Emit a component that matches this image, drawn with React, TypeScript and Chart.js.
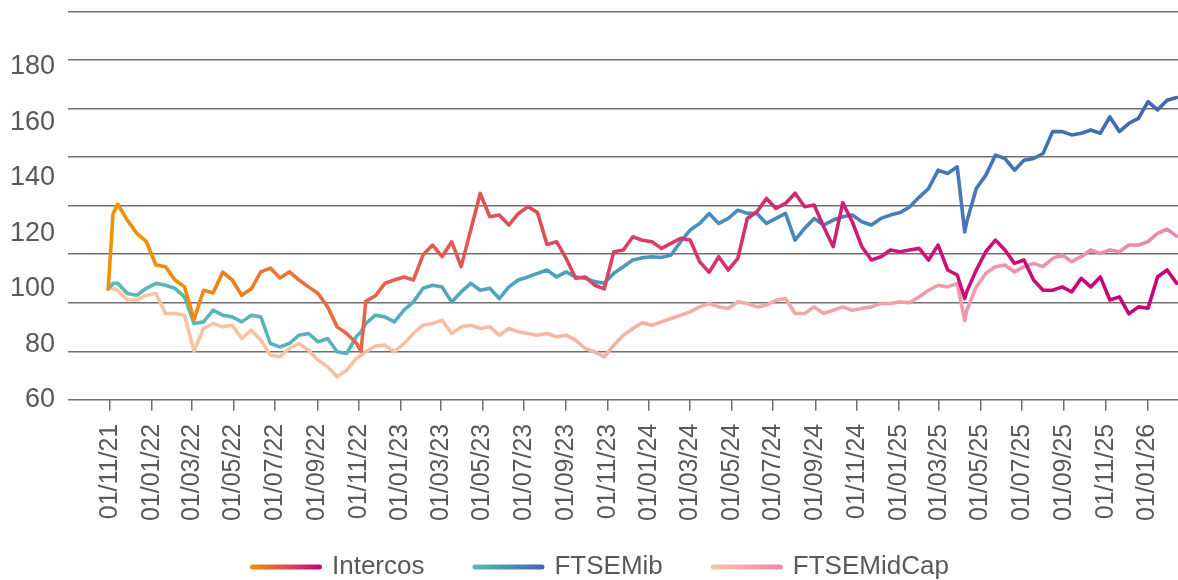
import React, { useEffect, useRef } from 'react';
import { Chart, registerables } from 'chart.js';

Chart.register(...registerables);

// ---------------- DATA ----------------
const DATES = [
  '2021-10-29', '2021-11-02', '2021-11-05', '2021-11-12', '2021-11-26', '2021-12-10', '2021-12-24',
  '2022-01-07', '2022-01-21', '2022-02-04', '2022-02-18', '2022-03-04', '2022-03-18', '2022-04-01',
  '2022-04-15', '2022-04-29', '2022-05-13', '2022-05-27', '2022-06-10', '2022-06-24', '2022-07-08',
  '2022-07-22', '2022-08-05', '2022-08-19', '2022-09-02', '2022-09-16', '2022-09-30', '2022-10-14',
  '2022-10-28', '2022-11-04', '2022-11-11', '2022-11-25', '2022-12-09', '2022-12-23',
  '2023-01-06', '2023-01-20', '2023-02-03', '2023-02-17', '2023-03-03', '2023-03-17', '2023-03-31',
  '2023-04-14', '2023-04-28', '2023-05-12', '2023-05-26', '2023-06-09', '2023-06-23', '2023-07-07',
  '2023-07-21', '2023-08-04', '2023-08-18', '2023-09-01', '2023-09-15', '2023-09-29', '2023-10-13',
  '2023-10-27', '2023-11-10', '2023-11-24', '2023-12-08', '2023-12-22',
  '2024-01-05', '2024-01-19', '2024-02-02', '2024-02-16', '2024-03-01', '2024-03-15', '2024-03-29',
  '2024-04-12', '2024-04-26', '2024-05-10', '2024-05-24', '2024-06-07', '2024-06-21', '2024-07-05',
  '2024-07-19', '2024-08-02', '2024-08-16', '2024-08-30', '2024-09-13', '2024-09-27', '2024-10-11',
  '2024-10-25', '2024-11-08', '2024-11-22', '2024-12-06', '2024-12-20',
  '2025-01-03', '2025-01-17', '2025-01-31', '2025-02-14', '2025-02-28', '2025-03-14', '2025-03-28',
  '2025-04-08', '2025-04-11', '2025-04-25', '2025-05-09', '2025-05-23', '2025-06-06', '2025-06-20',
  '2025-07-04', '2025-07-18', '2025-08-01', '2025-08-15', '2025-08-29', '2025-09-12', '2025-09-26',
  '2025-10-10', '2025-10-24', '2025-11-07', '2025-11-21', '2025-12-05', '2025-12-19',
  '2026-01-02', '2026-01-16', '2026-01-30', '2026-02-13',
];

const INTERCOS = [
  100, 115, 127, 130.5, 124.8, 120, 117,
  108.6, 108, 103.2, 100.7, 89, 99.5, 98.5,
  106, 103.2, 97.7, 100, 106.1, 107.5, 103.9,
  106.1, 103.2, 100.7, 98.3, 93.5, 86.3, 83.9,
  80.5, 77.5, 95.5, 97.5, 102, 103.2,
  104.3, 103.2, 112.2, 115.8, 111.6, 117, 108,
  121.2, 134.4, 126, 126.6, 123, 127.2, 129.6,
  127.5, 116, 117, 111, 103.8, 104.3, 101.3,
  100, 113.4, 114, 118.8, 117.5,
  117, 114.6, 116.4, 118.2, 117.6, 109.8, 106,
  111.6, 106.8, 111, 125.4, 127.8, 132.6, 129,
  130.8, 134.5, 129.6, 130.2, 122.4, 115.2, 131,
  124.2, 115.2, 110.4, 111.6, 114,
  113.4, 114, 114.6, 110.4, 115.8, 106.8, 105,
  96.5, 99, 106.8, 113.4, 117.6, 114, 109.2,
  110.4, 103.2, 99.5, 99.5, 100.7, 98.9, 103.8,
  100.7, 104.3, 96, 97.1, 91, 93.5,
  93, 104.3, 106.8, 102,
];

const FTSEMIB = [
  100, 101, 102, 102, 98.3, 97.7, 100.2,
  102, 101.3, 100.2, 97.1, 87.5, 88.1, 92.3,
  90.5, 89.9, 88.1, 90.5, 89.9, 80.3, 79.1,
  80.3, 83.3, 83.9, 80.9, 82.1, 77.3, 76.7,
  82.7, 84.5, 87.5, 90.5, 89.9, 88.1,
  92.3, 95.3, 100.2, 101.3, 100.7, 95.3, 98.9,
  102, 99.5, 100.2, 96.5, 100.7, 103.2, 104.3,
  105.6, 106.8, 104.3, 106.1, 104.3, 103.8, 102.6,
  102, 105.6, 108, 110.4, 111.2,
  111.6, 111.3, 112.2, 117, 121.2, 123.6, 127.2,
  123.6, 125.4, 128.4, 127.2, 127.2, 123.6, 125.4,
  127.2, 117.6, 121.8, 125.4, 123, 124.8, 126,
  126.6, 124.2, 123, 125.4, 126.6,
  127.5, 129.5, 133, 136.2, 142.8, 141.6, 144,
  120.5, 124.2, 136.2, 141, 148.2, 147, 142.8,
  146.4, 147, 148.8, 156.7, 156.7, 155.5, 156.1,
  157.3, 156.1, 162, 156.7, 159.7, 161.5,
  167.5, 164.5, 168, 169,
];

const FTSEMIDCAP = [
  100, 100.5, 100, 99.5, 96, 96, 97.7,
  98.3, 91.1, 91.1, 90.5, 77.5, 85.7, 87.5,
  86.3, 86.9, 82.1, 85.1, 81.5, 76.1, 75.5,
  78.5, 80.3, 77.9, 74.3, 71.9, 68.3, 70.7,
  74.9, 76, 77.3, 79.4, 79.7, 77.3,
  80.3, 83.9, 86.9, 87.5, 88.7, 83.9, 86.3,
  86.9, 85.7, 86.3, 83.3, 85.7, 84.5, 83.9,
  83.3, 83.9, 82.7, 83.3, 81.5, 78.5, 77.3,
  75.5, 79.7, 83.3, 85.7, 87.8,
  86.9, 88.1, 89.3, 90.5, 91.7, 93.5, 94.7,
  93.5, 92.9, 95.3, 94.7, 93.5, 94.1, 95.9,
  96.5, 91.1, 91.1, 93.5, 91.1, 92.3, 93.5,
  92.3, 92.9, 93.5, 94.7, 94.7,
  95.3, 95, 97.1, 99.5, 101.3, 100.7, 102,
  88.5, 92.3, 100.7, 105.6, 108, 108.6, 106.1,
  108, 109.2, 108, 111, 112.2, 109.8, 111.6,
  114, 112.8, 114, 113.4, 115.8, 115.8,
  117, 120, 121.5, 119,
];

const SERIES_NAMES = ['Intercos', 'FTSEMib', 'FTSEMidCap'];

const TICK_DATES = [
  '2021-11-01', '2022-01-01', '2022-03-01', '2022-05-01', '2022-07-01', '2022-09-01',
  '2022-11-01', '2023-01-01', '2023-03-01', '2023-05-01', '2023-07-01', '2023-09-01',
  '2023-11-01', '2024-01-01', '2024-03-01', '2024-05-01', '2024-07-01', '2024-09-01',
  '2024-11-01', '2025-01-01', '2025-03-01', '2025-05-01', '2025-07-01', '2025-09-01',
  '2025-11-01', '2026-01-01',
];

const Y_TICKS = [60, 80, 100, 120, 140, 160, 180];
const Y_MIN = 60;
const Y_MAX = 200;
const X_MIN_DATE = '2021-08-31';
const X_MAX_DATE = '2026-02-15';

// ---------------- STYLE ----------------
const FONT = '"Liberation Sans", Arial, Helvetica, sans-serif';
const TEXT_COLOR = '#58595B';
const GRID_COLOR = '#6F7072';

const GRADIENTS: [number, string][][] = [
  [[0, '#F39200'], [0.1, '#F18C08'], [0.15, '#EE7E22'], [0.27, '#E5654A'], [0.4, '#DD5058'],
   [0.52, '#D83F65'], [0.63, '#D22C70'], [0.76, '#CB1478'], [1, '#C5007D']],
  [[0, '#5CBAB7'], [0.25, '#57B2B9'], [0.4, '#4FA3BF'], [0.55, '#4A93C1'], [0.7, '#4783BC'],
   [0.85, '#4473B5'], [1, '#3F66AF']],
  [[0, '#F8C79F'], [0.35, '#F6BEA0'], [0.55, '#F3AFA5'], [0.75, '#F0A0A8'], [1, '#EA87AE']],
];

const LEGEND_GRADIENTS: [number, string][][] = [
  [[0, '#F39200'], [0.5, '#DC4A5C'], [1, '#C6007E']],
  [[0, '#5CBAB7'], [1, '#3F66AF']],
  [[0, '#F8C79F'], [1, '#EA87AE']],
];

const BASE = Date.UTC(2021, 10, 1);
function dayOf(s: string): number {
  const [y, m, d] = s.split('-').map(Number);
  return (Date.UTC(y, m - 1, d) - BASE) / 86400000;
}
function tickLabel(s: string): string {
  const [y, m, d] = s.split('-');
  return `${d}/${m}/${y.slice(2)}`;
}

function linearGradient(ctx: CanvasRenderingContext2D, x0: number, x1: number, stops: [number, string][]) {
  const g = ctx.createLinearGradient(x0, 0, x1, 0);
  stops.forEach(([o, c]) => g.addColorStop(o, c));
  return g;
}

const legendPlugin = {
  id: 'gradientLegend',
  afterDraw(chart: any) {
    const ctx: CanvasRenderingContext2D = chart.ctx;
    ctx.save();
    ctx.font = `26px ${FONT}`;
    ctx.textBaseline = 'middle';
    ctx.textAlign = 'left';
    const y = 567;
    const swatchW = 72;
    const gapText = 10;
    const gapItem = 48;
    let x = 250;
    SERIES_NAMES.forEach((name, i) => {
      ctx.lineWidth = 5;
      ctx.lineCap = 'round';
      ctx.strokeStyle = linearGradient(ctx, x, x + swatchW, LEGEND_GRADIENTS[i]);
      ctx.beginPath();
      ctx.moveTo(x + 2.5, y);
      ctx.lineTo(x + swatchW - 2.5, y);
      ctx.stroke();
      ctx.fillStyle = TEXT_COLOR;
      const tx = x + swatchW + gapText;
      ctx.fillText(name, tx, y);
      x = tx + ctx.measureText(name).width + gapItem;
    });
    ctx.restore();
  },
};

export default function App() {
  const canvasRef = useRef<HTMLCanvasElement | null>(null);

  useEffect(() => {
    if (!canvasRef.current) return;
    const seriesValues = [INTERCOS, FTSEMIB, FTSEMIDCAP];
    const datasets = seriesValues.map((vals, i) => ({
      label: SERIES_NAMES[i],
      data: DATES.map((d, j) => ({ x: dayOf(d), y: vals[j] })),
      borderWidth: 3.6,
      pointRadius: 0,
      pointHoverRadius: 0,
      fill: false,
      tension: 0,
      borderJoinStyle: 'round' as const,
      borderCapStyle: 'round' as const,
      borderColor: (c: any) => {
        const area = c.chart.chartArea;
        if (!area) return GRADIENTS[i][0][1];
        return linearGradient(c.chart.ctx, area.left, area.right, GRADIENTS[i]);
      },
    }));

    const chart = new Chart(canvasRef.current, {
      type: 'line',
      data: { datasets },
      plugins: [legendPlugin],
      options: {
        animation: false,
        responsive: true,
        maintainAspectRatio: false,
        layout: { padding: { top: 11.5, left: 0, right: 0, bottom: 0 } },
        plugins: {
          legend: { display: false },
          tooltip: { enabled: false },
        },
        events: [],
        scales: {
          x: {
            type: 'linear',
            min: dayOf(X_MIN_DATE),
            max: dayOf(X_MAX_DATE),
            afterBuildTicks: (scale: any) => {
              scale.ticks = TICK_DATES.map((d) => ({ value: dayOf(d) }));
            },
            afterFit: (scale: any) => {
              scale.height = 180.2;
              scale.paddingLeft = 0;
              scale.paddingRight = 0;
            },
            ticks: {
              autoSkip: false,
              minRotation: 90,
              maxRotation: 90,
              padding: 13,
              color: TEXT_COLOR,
              font: { size: 25, family: FONT },
              callback: (_v: any, index: number) => tickLabel(TICK_DATES[index]),
            },
            grid: {
              display: true,
              drawOnChartArea: false,
              drawTicks: true,
              tickLength: 11,
              color: GRID_COLOR,
              lineWidth: 1.5,
            },
            border: { display: false },
          },
          y: {
            type: 'linear',
            position: 'left',
            min: Y_MIN,
            max: Y_MAX,
            afterBuildTicks: (scale: any) => {
              scale.ticks = Y_TICKS.map((v) => ({ value: v }));
            },
            afterFit: (scale: any) => {
              scale.width = 68;
              scale.paddingTop = 0;
              scale.paddingBottom = 0;
            },
            ticks: {
              padding: 13,
              color: TEXT_COLOR,
              font: { size: 27, family: FONT },
              callback: (v: any) => String(v),
            },
            grid: { display: false, drawTicks: false },
            border: { display: false },
          },
          yg: {
            type: 'linear',
            position: 'left',
            min: 0,
            max: 8,
            afterFit: (scale: any) => {
              scale.width = 0;
              scale.paddingTop = 0;
              scale.paddingBottom = 0;
            },
            ticks: { display: false, stepSize: 1 },
            grid: { color: GRID_COLOR, lineWidth: 1.5, drawTicks: false },
            border: { display: false },
          },
        },
      },
    } as any);
    return () => chart.destroy();
  }, []);

  return (
    <div style={{ position: 'fixed', left: 0, top: 0, width: 1178, height: 580, background: '#fff' }}>
      <canvas ref={canvasRef} />
    </div>
  );
}
